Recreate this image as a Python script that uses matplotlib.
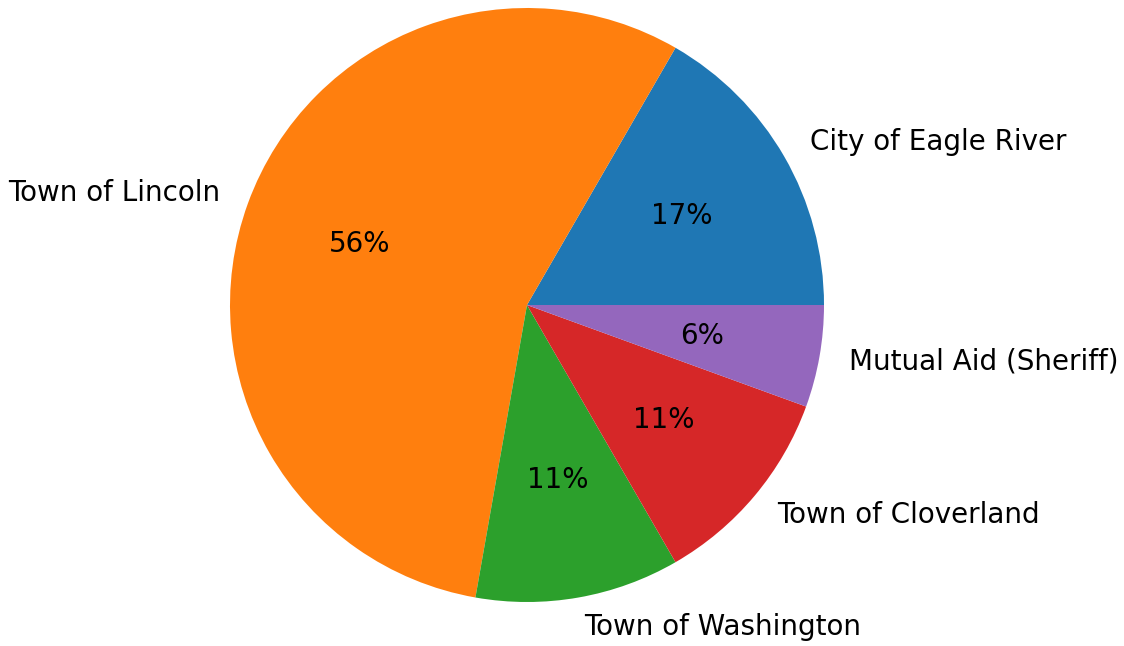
import matplotlib
matplotlib.use('Agg')
import matplotlib.pyplot as plt

# 数据
labels = ['City of Eagle River', 'Town of Lincoln', 'Town of Washington',
          'Town of Cloverland', 'Mutual Aid (Sheriff)']
counts = [3, 10, 2, 2, 1]

fig = plt.figure(figsize=(11.24, 6.46), dpi=100)
# circle centre ~ (527, 305) px, radius ~ 297 px
cx, cy, r = 527, 305, 297
W, H = 1124, 646
ax = fig.add_axes([(cx - r) / W, (H - cy - r) / H, 2 * r / W, 2 * r / H])

ax.pie(counts, labels=labels, autopct='%1.0f%%',
       textprops={'fontsize': 20})
ax.set_xlim(-1, 1)
ax.set_ylim(-1, 1)
ax.set_aspect('equal')

fig.savefig('out.png', dpi=100)
plt.close(fig)
